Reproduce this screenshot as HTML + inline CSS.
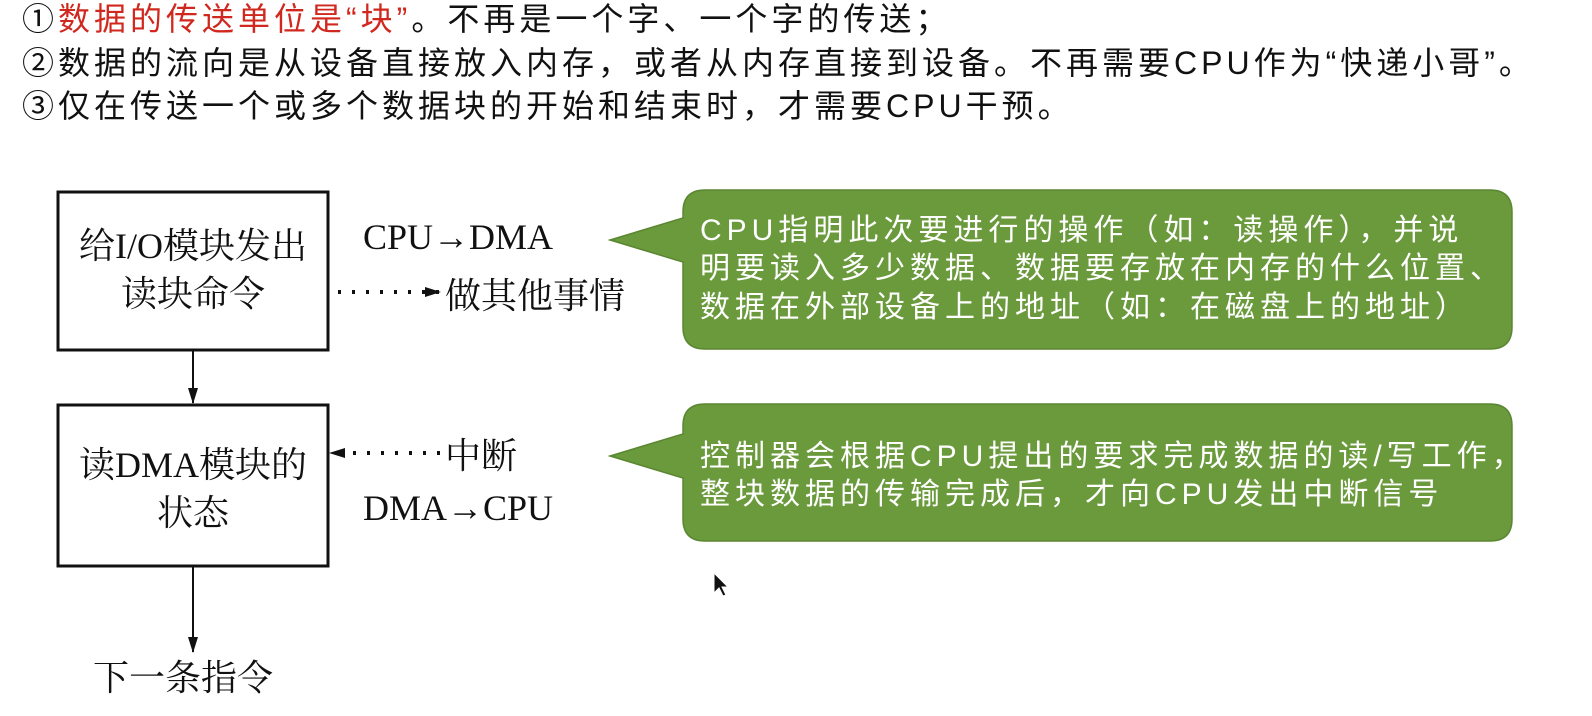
<!DOCTYPE html>
<html><head><meta charset="utf-8"><style>
html,body{margin:0;padding:0;background:#fff;width:1592px;height:716px;overflow:hidden}
svg{display:block}
.top{font-family:"Liberation Sans","Noto Sans CJK SC",sans-serif;font-size:32px;letter-spacing:4px;fill:#111}
.ser{font-family:"Liberation Serif","Noto Serif CJK SC",serif;font-size:36px;fill:#111}
.wt{font-family:"Liberation Sans","Noto Sans CJK SC",sans-serif;font-size:30px;letter-spacing:5px;fill:#fff}
</style></head><body>
<svg width="1592" height="716" viewBox="0 0 1592 716" xmlns="http://www.w3.org/2000/svg">
<defs><marker id="ah" markerWidth="16" markerHeight="10" refX="15" refY="5" orient="auto" markerUnits="userSpaceOnUse"><path d="M0,0 L16,5 L0,10 Z" fill="#111"/></marker></defs>
<text class="top" x="22" y="30"><tspan>①</tspan><tspan fill="#d0281e">数据的传送单位是“块”</tspan><tspan>。不再是一个字、一个字的传送；</tspan></text>
<text class="top" x="22" y="74">②数据的流向是从设备直接放入内存，或者从内存直接到设备。不再需要CPU作为“快递小哥”。</text>
<text class="top" x="22" y="117">③仅在传送一个或多个数据块的开始和结束时，才需要CPU干预。</text>

<rect x="58" y="192" width="270" height="158" fill="#fff" stroke="#111" stroke-width="3"/>
<text class="ser" x="193" y="258" text-anchor="middle">给I/O模块发出</text>
<text class="ser" x="193" y="306" text-anchor="middle">读块命令</text>
<rect x="58" y="405" width="270" height="161" fill="#fff" stroke="#111" stroke-width="3"/>
<text class="ser" x="193" y="477" text-anchor="middle">读DMA模块的</text>
<text class="ser" x="193" y="525" text-anchor="middle">状态</text>
<line x1="193" y1="351" x2="193" y2="403" stroke="#111" stroke-width="2" marker-end="url(#ah)"/>
<line x1="193" y1="567" x2="193" y2="652" stroke="#111" stroke-width="2" marker-end="url(#ah)"/>
<text class="ser" x="93" y="690">下一条指令</text>

<text class="ser" x="363" y="249">CPU→DMA</text>
<line x1="338" y1="292" x2="440" y2="292" stroke="#111" stroke-width="4" stroke-dasharray="3,11" marker-end="url(#ah)"/>
<text class="ser" x="445" y="308">做其他事情</text>
<line x1="440" y1="453" x2="330" y2="453" stroke="#111" stroke-width="4" stroke-dasharray="3,11" marker-end="url(#ah)"/>
<text class="ser" x="445" y="468">中断</text>
<text class="ser" x="363" y="520">DMA→CPU</text>

<path d="M705,190 H1490 Q1512,190 1512,212 V327 Q1512,349 1490,349 H705 Q683,349 683,327 V262 L610,240 L683,218 V212 Q683,190 705,190 Z" fill="#6a9a3c" stroke="#5a8632" stroke-width="1.5"/>
<text class="wt" x="700" y="240">CPU指明此次要进行的操作（如：读操作），并说</text>
<text class="wt" x="700" y="278">明要读入多少数据、数据要存放在内存的什么位置、</text>
<text class="wt" x="700" y="317">数据在外部设备上的地址（如：在磁盘上的地址）</text>

<path d="M705,404 H1490 Q1512,404 1512,426 V519 Q1512,541 1490,541 H705 Q683,541 683,519 V478 L610,456 L683,434 V426 Q683,404 705,404 Z" fill="#6a9a3c" stroke="#5a8632" stroke-width="1.5"/>
<text class="wt" x="700" y="466">控制器会根据CPU提出的要求完成数据的读/写工作，</text>
<text class="wt" x="700" y="504">整块数据的传输完成后，才向CPU发出中断信号</text>

<path d="M714,573 L714,593 L719,588 L723,596 L726,595 L722,587 L728,587 Z" fill="#111" stroke="#fff" stroke-width="1"/>
</svg>
</body></html>
